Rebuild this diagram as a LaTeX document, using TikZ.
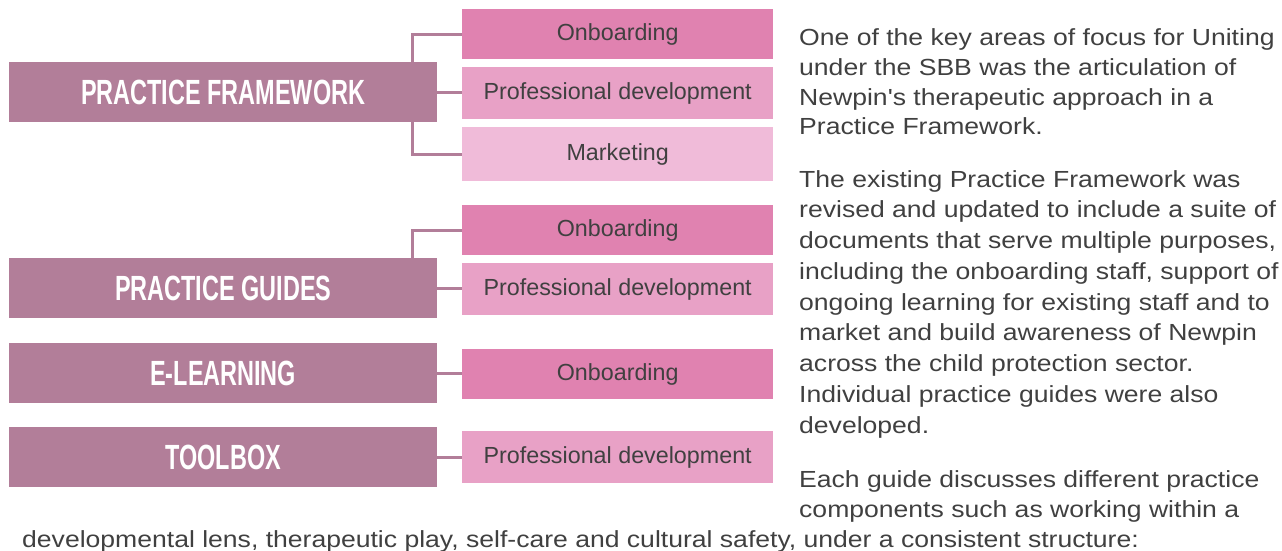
\documentclass[tikz,border=0pt]{standalone}
\usepackage{fontspec}
\setmainfont{Liberation Sans}
\newfontfamily\parafont[FakeStretch=1.14]{Liberation Sans}
\newfontfamily\titlefont[FakeStretch=0.67]{Liberation Sans}
\usetikzlibrary{backgrounds}
\definecolor{mauve}{HTML}{B27E99}
\definecolor{onb}{HTML}{E082B0}
\definecolor{pdev}{HTML}{E8A1C6}
\definecolor{mkt}{HTML}{F0BBD9}
\definecolor{txt}{HTML}{404040}
\tikzset{
  mainbox/.style={fill=mauve, inner sep=0pt, minimum width=428pt, minimum height=60pt,
    anchor=north west, text=white, text depth=-2.5pt,
    font=\titlefont\bfseries\fontsize{35}{35}\selectfont},
  subbox/.style={inner sep=0pt, minimum width=311pt, anchor=north west, text=txt,
    font=\fontsize{23.3}{24}\selectfont},
  conn/.style={draw=mauve, line width=3pt},
  ptext/.style={anchor=base west, inner sep=0pt, text=txt,
    font=\parafont\fontsize{23.3}{28}\selectfont}
}
\begin{document}
\begin{tikzpicture}[x=1pt,y=-1pt]
\useasboundingbox (0,0) rectangle (1282,551);
% left main boxes
\node[mainbox] (pf) at (9,62) {PRACTICE FRAMEWORK};
\node[mainbox] (pg) at (9,258) {PRACTICE GUIDES};
\node[mainbox] (el) at (9,343) {E-LEARNING};
\node[mainbox] (tb) at (9,427) {TOOLBOX};
% right sub boxes
\node[subbox, fill=onb, minimum height=50pt] (pfon) at (462,9) {Onboarding};
\node[subbox, fill=pdev, minimum height=52pt] (pfpd) at (462,67) {Professional development};
\node[subbox, fill=mkt, minimum height=54pt] (pfmk) at (462,127) {Marketing};
\node[subbox, fill=onb, minimum height=50pt] (pgon) at (462,205) {Onboarding};
\node[subbox, fill=pdev, minimum height=52pt] (pgpd) at (462,263) {Professional development};
\node[subbox, fill=onb, minimum height=50pt] (elon) at (462,349) {Onboarding};
\node[subbox, fill=pdev, minimum height=52pt] (tbpd) at (462,431) {Professional development};
% connectors
\begin{scope}[on background layer]
\draw[conn] (pfon.west) -| ([xshift=-25pt]pf.east) |- (pfmk.west);
\draw[conn] (pf.east) -- (pf.east -| pfpd.west);
\draw[conn] (pgon.west) -| ([xshift=-25pt]pg.north east);
\draw[conn] (pg.east) -- (pg.east -| pgpd.west);
\draw[conn] (el.east) -- (el.east -| elon.west);
\draw[conn] (tb.east) -- (tb.east -| tbpd.west);
\end{scope}
% paragraph text
\foreach \yy/\linetext [count=\i] in {
  46/{One of the key areas of focus for Uniting},
  75.5/{under the SBB was the articulation of},
  105/{Newpin's therapeutic approach in a},
  134.5/{Practice Framework.},
  187/{The existing Practice Framework was},
  217.8/{revised and updated to include a suite of},
  248.5/{documents that serve multiple purposes,},
  279.3/{including the onboarding staff, support of},
  310/{ongoing learning for existing staff and to},
  340.8/{market and build awareness of Newpin},
  371.6/{across the child protection sector.},
  402.4/{Individual practice guides were also},
  433.2/{developed.},
  487/{Each guide discusses different practice},
  517/{components such as working within a}}
  \node[ptext, name=p\i] at (799,\yy) {\linetext};
\node[ptext] (plast) at (22,547) {developmental lens, therapeutic play, self-care and cultural safety, under a consistent structure:};
\end{tikzpicture}
\end{document}
